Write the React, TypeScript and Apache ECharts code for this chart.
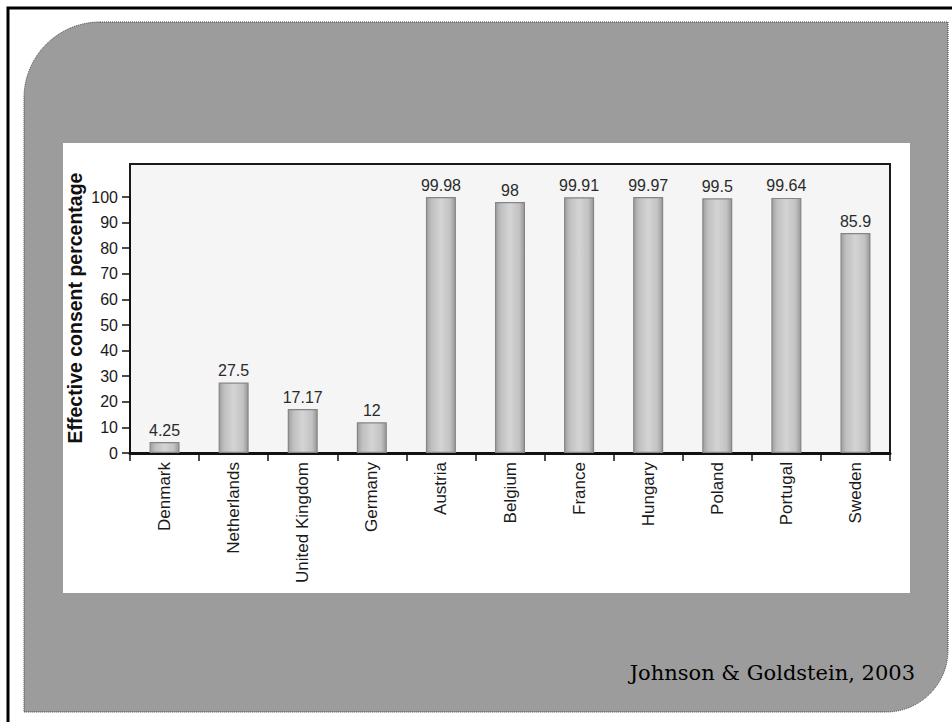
import React, { useEffect, useRef } from "react";
import * as echarts from "echarts";

const countries = [
  "Denmark",
  "Netherlands",
  "United Kingdom",
  "Germany",
  "Austria",
  "Belgium",
  "France",
  "Hungary",
  "Poland",
  "Portugal",
  "Sweden",
];
const consent = [4.25, 27.5, 17.17, 12, 99.98, 98, 99.91, 99.97, 99.5, 99.64, 85.9];
const yMin = 0;
const yMax = 100;
const yStep = 10;
const yTitle = "Effective consent percentage";
const citation = "Johnson & Goldstein, 2003";

const SANS = "'Liberation Sans', Arial, sans-serif";

export default function App() {
  const ref = useRef<HTMLDivElement>(null);

  useEffect(() => {
    if (!ref.current) return;
    const chart = echarts.init(ref.current, undefined, { renderer: "svg" });
    const barFill = new echarts.graphic.LinearGradient(0, 0, 1, 0, [
      { offset: 0, color: "#a0a0a0" },
      { offset: 0.18, color: "#c0c0c0" },
      { offset: 0.5, color: "#d4d4d4" },
      { offset: 0.82, color: "#c2c2c2" },
      { offset: 1, color: "#989898" },
    ]);
    chart.setOption({
      animation: false,
      backgroundColor: "#ffffff",
      graphic: [
        {
          type: "rect",
          z: 0,
          silent: true,
          shape: { x: 8, y: 8, width: 960, height: 730 },
          style: { fill: "#ffffff", stroke: "#000000", lineWidth: 3 },
        },
        {
          type: "rect",
          z: 1,
          silent: true,
          shape: { x: 24, y: 22, width: 924, height: 690, r: [76, 0, 62, 0] },
          style: { fill: "#9c9c9c", stroke: "#3a3a3a", lineWidth: 1, lineDash: [1, 1] },
        },
        {
          type: "rect",
          z: 2,
          silent: true,
          shape: { x: 63, y: 143, width: 847, height: 450 },
          style: { fill: "#ffffff" },
        },
        {
          type: "rect",
          z: 3,
          silent: true,
          shape: { x: 130, y: 164, width: 760, height: 289 },
          style: { fill: "#f5f5f5", stroke: "#1a1a1a", lineWidth: 2 },
        },
        {
          type: "text",
          z: 10,
          silent: true,
          x: 75,
          y: 308,
          rotation: Math.PI / 2,
          style: {
            text: yTitle,
            fontFamily: SANS,
            fontWeight: "bold",
            fontSize: 19.5,
            fill: "#111111",
            align: "center",
            verticalAlign: "middle",
          },
        },
        {
          type: "text",
          z: 10,
          silent: true,
          x: 915,
          y: 662,
          style: {
            text: citation,
            fontFamily: "'DejaVu Serif', serif",
            fontSize: 21,
            fill: "#000000",
            align: "right",
            verticalAlign: "alphabetic",
          },
        },
      ],
      grid: { left: 130, right: 62, top: 197, bottom: 269, containLabel: false },
      xAxis: {
        type: "category",
        data: countries,
        z: 5,
        axisLine: { show: true, lineStyle: { color: "#111111", width: 3 } },
        axisTick: { show: true, length: 8, lineStyle: { color: "#111111", width: 1.5 } },
        axisLabel: {
          rotate: 90,
          interval: 0,
          margin: 9,
          fontFamily: SANS,
          fontSize: 17,
          color: "#1a1a1a",
        },
        splitLine: { show: false },
      },
      yAxis: {
        type: "value",
        min: yMin,
        max: yMax,
        interval: yStep,
        z: 5,
        axisLine: { show: true, lineStyle: { color: "#111111", width: 2 } },
        axisTick: { show: true, length: 8, lineStyle: { color: "#111111", width: 1.5 } },
        axisLabel: {
          margin: 12,
          fontFamily: SANS,
          fontSize: 16,
          color: "#1a1a1a",
        },
        splitLine: { show: false },
      },
      series: [
        {
          type: "bar",
          data: consent,
          z: 6,
          barWidth: 30,
          itemStyle: { color: barFill, borderColor: "#858585", borderWidth: 1.2 },
          label: {
            show: true,
            position: "top",
            distance: 4,
            fontFamily: SANS,
            fontSize: 16,
            color: "#2a2a2a",
          },
        },
      ],
    });
    return () => chart.dispose();
  }, []);

  return (
    <div
      ref={ref}
      style={{ position: "fixed", left: 0, top: 0, width: 952, height: 722 }}
    />
  );
}
